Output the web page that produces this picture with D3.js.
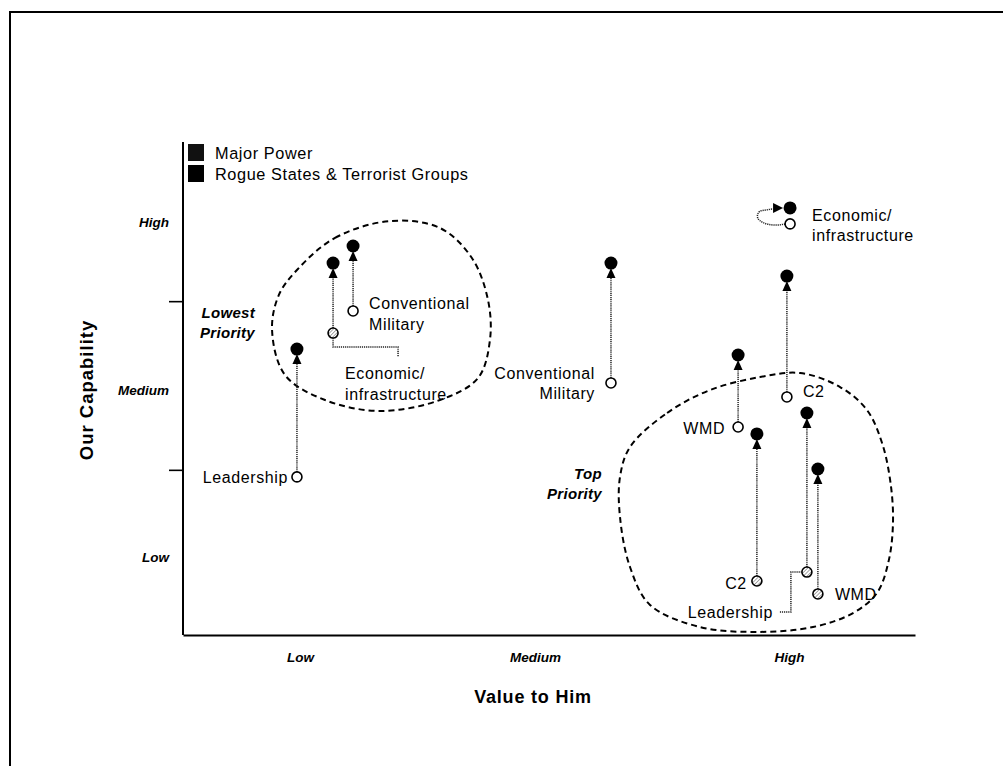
<!DOCTYPE html>
<html><head><meta charset="utf-8">
<script src="https://cdn.jsdelivr.net/npm/d3@7"></script>
<style>body{margin:0;background:#fff}svg{display:block;font-family:"Liberation Sans",Arial,sans-serif}</style>
</head><body><svg id="c" width="1003" height="766"></svg>
<script>
// ---------- DATA ----------
const categories = ["Leadership","Economic/infrastructure","Conventional Military","Conventional Military","Economic/infrastructure","C2","WMD","C2","Leadership","WMD"];
const valueToHim = [0.467, 0.615, 0.697, 1.754, 2.488, 2.475, 2.275, 2.352, 2.557, 2.602];
const capabilityNow = [0.958, 1.811, 1.942, 1.515, 2.458, 1.432, 1.254, 0.341, 0.394, 0.264];
const capabilityGoal = [1.716, 2.226, 2.327, 2.226, 2.553, 2.149, 1.681, 1.213, 1.337, 1.005];
const hatchedOrigin = [false, true, false, false, false, false, false, true, true, true];
const loopArrow = [false, false, false, false, true, false, false, false, false, false];

const legendLabels = ["Major Power", "Rogue States & Terrorist Groups"];
const xTickLabels = ["Low","Medium","High"];
const xTickLabelValues = [0.48, 1.443, 2.484];
const yTickLabels = ["Low","Medium","High"];
const yTickLabelValues = [0.483, 1.473, 2.471];
const yTickMarks = [1, 2];

const blobLowest = [[0.467,2.185],[0.623,2.375],[0.848,2.475],[1.053,2.434],[1.184,2.256],[1.250,2.007],[1.258,1.770],[1.209,1.544],[1.053,1.414],[0.807,1.349],[0.582,1.414],[0.418,1.562],[0.365,1.829],[0.393,2.037]];
const blobTop = [[1.832,1.135],[1.984,1.337],[2.160,1.473],[2.365,1.550],[2.529,1.574],[2.693,1.491],[2.803,1.355],[2.865,1.159],[2.898,0.940],[2.910,0.703],[2.893,0.466],[2.844,0.270],[2.746,0.151],[2.582,0.068],[2.352,0.039],[2.119,0.068],[1.914,0.199],[1.832,0.424],[1.791,0.720],[1.791,0.958]];
const regionLabels = [["Lowest","Priority"],["Top","Priority"]];
const regionLabelPos = [[0.295,1.93],[1.717,0.975]];

// ---------- LAYOUT (label offsets, px) ----------
const labelLayout = [
  {lines:["Leadership"], anchor:"end", dx:-9, dy:[0]},
  {lines:["Economic/","infrastructure"], anchor:"start", dx:12, dy:[40,61], conn:[[0,5],[0,14],[65,14],[65,24]]},
  {lines:["Conventional","Military"], anchor:"start", dx:16, dy:[-8,13]},
  {lines:["Conventional","Military"], anchor:"end", dx:-16, dy:[-10,10]},
  {lines:["Economic/","infrastructure"], anchor:"start", dx:22, dy:[-9,11]},
  {lines:["C2"], anchor:"start", dx:16, dy:[-6]},
  {lines:["WMD"], anchor:"end", dx:-13, dy:[1]},
  {lines:["C2"], anchor:"end", dx:-10, dy:[2]},
  {lines:["Leadership"], anchor:"end", dx:-34, dy:[40], conn:[[-5,0],[-16,0],[-16,40],[-27,40]]},
  {lines:["WMD"], anchor:"start", dx:17, dy:[0]}
];

const svg = d3.select("#c");
const x = d3.scaleLinear().domain([0,3]).range([183,915]);
const y = d3.scaleLinear().domain([0,3]).range([638.5,132.5]);
const axisY = 635;

// frame
svg.append("path").attr("d","M10,766V12H1003").attr("fill","none").attr("stroke","#000").attr("stroke-width",2);

// hatch pattern
const defs = svg.append("defs");
const pat = defs.append("pattern").attr("id","hatch").attr("patternUnits","userSpaceOnUse")
  .attr("width",2.6).attr("height",2.6).attr("patternTransform","rotate(45)");
pat.append("rect").attr("width",2.6).attr("height",2.6).attr("fill","#fff");
pat.append("line").attr("x1",0).attr("y1",0).attr("x2",0).attr("y2",2.6).attr("stroke","#777").attr("stroke-width",1.3);

// axes
svg.append("line").attr("x1",x(0)).attr("x2",x(0)).attr("y1",142).attr("y2",axisY).attr("stroke","#000").attr("stroke-width",2);
const gx = svg.append("g").attr("transform",`translate(0,${axisY})`)
  .call(d3.axisBottom(x).tickValues(xTickLabelValues).tickFormat((d,i)=>xTickLabels[i]).tickSize(0).tickSizeOuter(0).tickPadding(17));
gx.select(".domain").attr("stroke-width",2);
gx.selectAll("text").attr("font-size",13.5).attr("font-weight","bold").attr("font-style","italic").attr("font-family","'Liberation Sans',Arial,sans-serif").attr("fill","#000");

const gyt = svg.append("g").attr("transform",`translate(${x(0)},0)`)
  .call(d3.axisLeft(y).tickValues(yTickMarks).tickFormat("").tickSize(14).tickSizeOuter(0));
gyt.select(".domain").remove();
gyt.selectAll("line").attr("stroke-width",1.6);
const gyl = svg.append("g").attr("transform",`translate(${x(0)},0)`)
  .call(d3.axisLeft(y).tickValues(yTickLabelValues).tickFormat((d,i)=>yTickLabels[i]).tickSize(0).tickPadding(14));
gyl.select(".domain").remove();
gyl.selectAll("text").attr("font-size",13.5).attr("font-weight","bold").attr("font-style","italic").attr("font-family","'Liberation Sans',Arial,sans-serif").attr("fill","#000");

// axis titles
svg.append("text").attr("x",533).attr("y",697).attr("dy","0.35em").attr("text-anchor","middle")
  .attr("font-size",18).attr("font-weight","bold").attr("letter-spacing",0.8).text("Value to Him");
svg.append("text").attr("transform","translate(87,390) rotate(-90)").attr("dy","0.35em").attr("text-anchor","middle")
  .attr("font-size",18.5).attr("font-weight","bold").attr("letter-spacing",1).text("Our Capability");

// legend
legendLabels.forEach((t,i)=>{
  svg.append("rect").attr("x",188).attr("y",144+i*21).attr("width",16).attr("height",17).attr("fill",i===0?"#111":"#000");
  svg.append("text").attr("x",215).attr("y",153+i*21).attr("dy","0.35em").attr("font-size",16.3).attr("letter-spacing",0.6).text(t);
});

// blobs
const blobLine = d3.line().x(d=>x(d[0])).y(d=>y(d[1])).curve(d3.curveCatmullRomClosed.alpha(0.5));
[blobLowest, blobTop].forEach(b=>{
  svg.append("path").attr("d",blobLine(b)).attr("fill","none").attr("stroke","#000").attr("stroke-width",2).attr("stroke-dasharray","6,4");
});

// region labels
regionLabels.forEach((ls,i)=>{
  ls.forEach((t,j)=>{
    svg.append("text").attr("x",x(regionLabelPos[i][0])).attr("y",y(regionLabelPos[i][1])+j*20).attr("dy","0.35em")
      .attr("text-anchor","end")
      .attr("font-size",15).attr("font-weight","bold").attr("font-style","italic").attr("letter-spacing",0.3).text(t);
  });
});

// marks
const dotStyle = sel => sel.attr("fill","none").attr("stroke","#222").attr("stroke-width",1.5).attr("stroke-dasharray","1.2,0.9");
categories.forEach((c,i)=>{
  const px = x(valueToHim[i]);
  const oy = y(capabilityNow[i]);
  const gy = y(capabilityGoal[i]);
  const L = labelLayout[i];
  if (loopArrow[i]) {
    svg.append("path").attr("d",`M${px-5},${oy} C${px-20},${oy+4} ${px-40},${oy-3} ${px-30},${gy+3} L${px-17},${gy+1}`).call(dotStyle);
    svg.append("path").attr("d",`M${px-7},${gy} L${px-17},${gy-5} L${px-17},${gy+5} Z`).attr("fill","#000");
  } else {
    svg.append("line").attr("x1",px).attr("x2",px).attr("y1",oy-5).attr("y2",gy+14).call(dotStyle);
    svg.append("path").attr("d",`M${px},${gy+5} L${px-4.5},${gy+15} L${px+4.5},${gy+15} Z`).attr("fill","#000");
  }
  svg.append("circle").attr("cx",px).attr("cy",gy).attr("r",6.5).attr("fill","#000");
  svg.append("circle").attr("cx",px).attr("cy",oy).attr("r",5).attr("fill",hatchedOrigin[i]?"url(#hatch)":"#fff").attr("stroke","#000").attr("stroke-width",1.6);
  if (L.conn) {
    svg.append("path").attr("d", d3.line()(L.conn.map(p=>[px+p[0], oy+p[1]]))).call(dotStyle);
  }
  L.lines.forEach((t,j)=>{
    svg.append("text").attr("x",px+L.dx).attr("y",oy+L.dy[j]).attr("dy","0.35em").attr("text-anchor",L.anchor)
      .attr("font-size",16).attr("letter-spacing",0.6).attr("fill","#000").text(t);
  });
});
</script></body></html>
